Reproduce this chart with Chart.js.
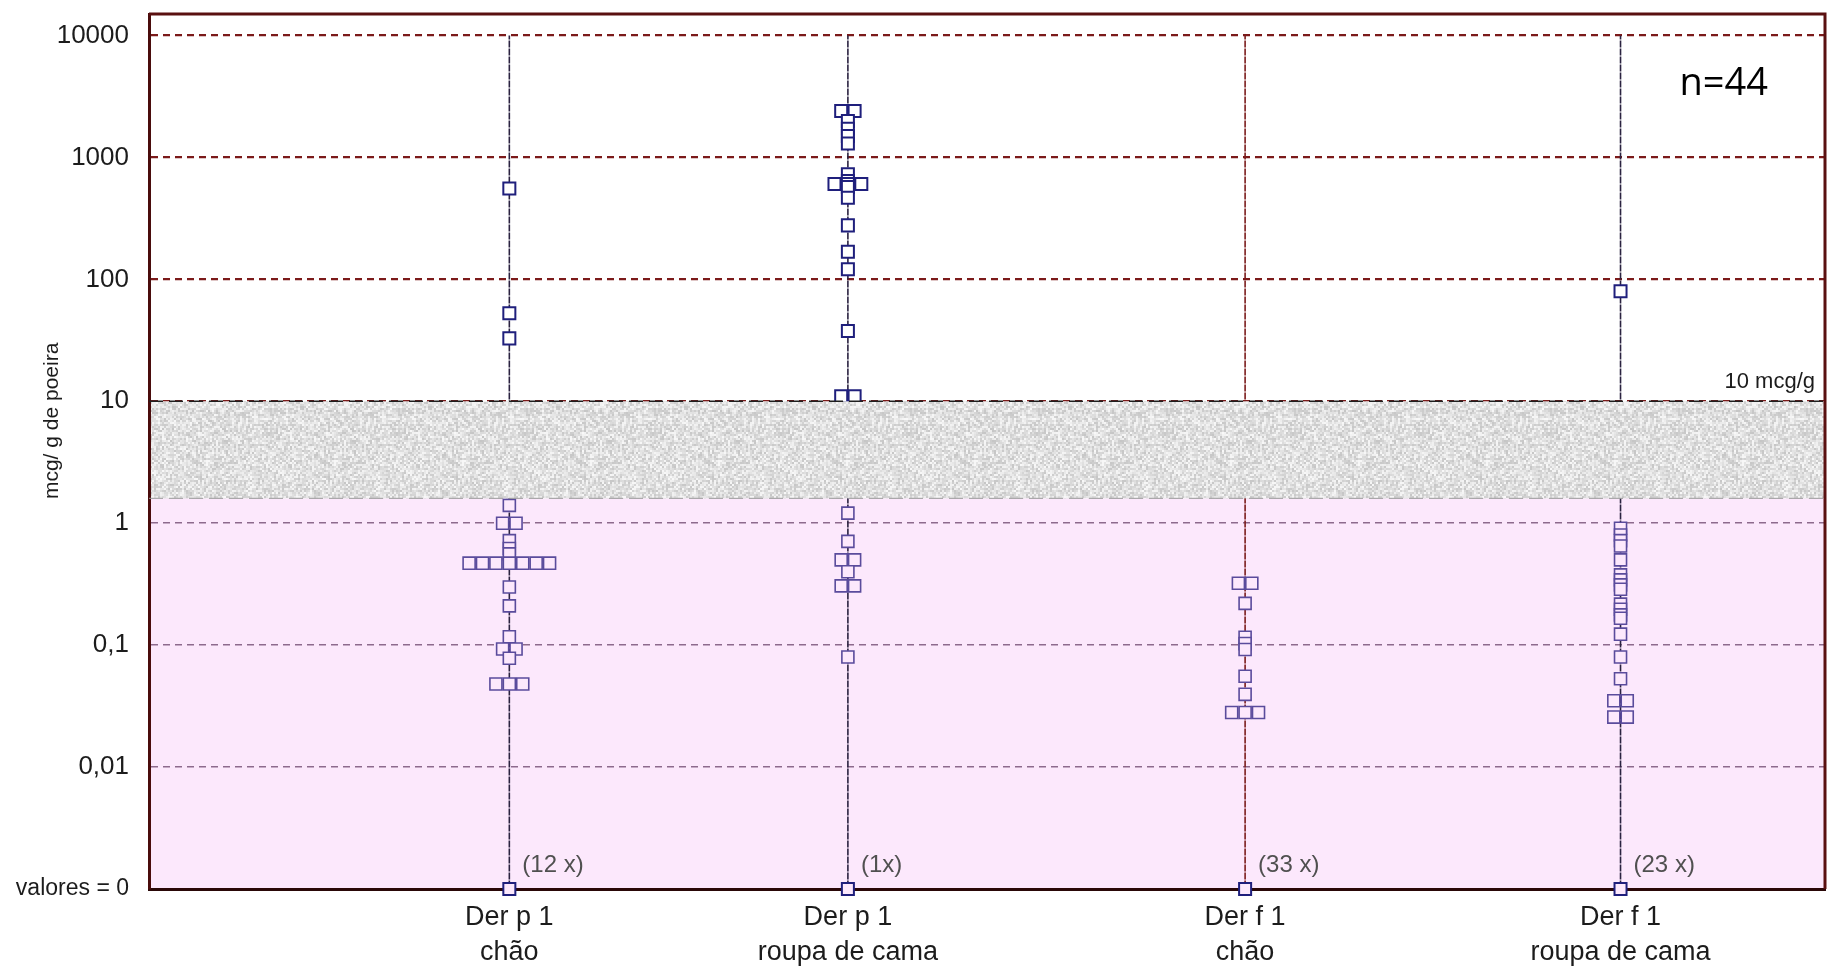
<!DOCTYPE html>
<html lang="pt">
<head>
<meta charset="UTF-8">
<title>Der p 1 / Der f 1 - mcg/g de poeira</title>
<script src="https://cdn.jsdelivr.net/npm/chart.js"></script>
<style>
  html, body { margin: 0; padding: 0; background: #fff; overflow: hidden; }
  #wrap { width: 1830px; height: 969px; }
  canvas { display: block; }
</style>
</head>
<body>
<div id="wrap"><canvas id="chart" width="1830" height="969"></canvas></div>
<script>
// categorias do eixo x e posição de cada coluna (escala 0-100)
const categories = [['Der p 1', 'chão'], ['Der p 1', 'roupa de cama'], ['Der f 1', 'chão'], ['Der f 1', 'roupa de cama']];
const categoryPos = [21.5, 41.7, 65.4, 87.8];

// valores > 0 (mcg/g de poeira)
const derP1Chao = [557, 52.6, 32.8, 1.4, 1.0, 1.0, 0.72, 0.62, 0.56, 0.47, 0.47, 0.47, 0.47, 0.47, 0.47, 0.47,
                   0.30, 0.21, 0.117, 0.093, 0.093, 0.078, 0.048, 0.048, 0.048];
const derP1Cama = [2400, 2400, 1990, 1720, 1500, 1300, 726, 640, 604, 604, 604, 571, 467, 277, 168, 121, 37.7, 11, 11,
                   1.21, 0.71, 0.5, 0.5, 0.40, 0.306, 0.306, 0.08];
const derF1Chao = [0.322, 0.322, 0.22, 0.116, 0.103, 0.092, 0.0556, 0.0395, 0.028, 0.028, 0.028];
const derF1Cama = [80, 0.91, 0.80, 0.72, 0.65, 0.50, 0.377, 0.343, 0.312, 0.287, 0.217, 0.197, 0.177, 0.166,
                   0.123, 0.080, 0.053, 0.035, 0.035, 0.0257, 0.0257];

// quantas amostras deram zero em cada coluna
const zeroCounts = [12, 1, 33, 23];
const zeroLabels = ['(12 x)', '(1x)', '(33 x)', '(23 x)'];
const sampleSize = 44;

const yTicks = [0.001, 0.01, 0.1, 1, 10, 100, 1000, 10000];
const yTickLabels = ['valores = 0', '0,01', '0,1', '1', '10', '100', '1000', '10000'];
const zeroValue = 0.001;
const yMax = 15000;
const bandTop = 10;      // faixa cinza: 10 mcg/g
const bandBottom = 1.6;

// estilos
const FONT = "'Liberation Sans', Arial, sans-serif";
const TEXT = '#1c1c1c';
const PINK = '#fce8fc';
const NAVY = '#1f1f7c';
const PURPLE = '#5a4b9c';
const SLOT = 0.8; // deslocamento horizontal entre valores repetidos
const upperLineColors = ['#2a2240', '#2a2240', '#7b1c1c', '#2a2240'];

const columns = [derP1Chao, derP1Cama, derF1Chao, derF1Cama];

// valores iguais ficam lado a lado, centrados na coluna
function spread(values, pos) {
    const count = {};
    values.forEach(v => { count[v] = (count[v] || 0) + 1; });
    const seen = {};
    return values.map(v => {
        const k = seen[v] = (seen[v] || 0) + 1;
        return { x: pos + (k - 1 - (count[v] - 1) / 2) * SLOT, y: v };
    });
}

const datasets = [];

// linhas verticais de cada coluna
categoryPos.forEach((p, i) => {
    datasets.push({
        data: [{ x: p, y: yTicks[yTicks.length - 1] }, { x: p, y: bandTop }, { x: p, y: zeroValue }],
        showLine: true,
        pointRadius: 0,
        borderWidth: 1.6,
        order: 3,
        segment: {
            borderColor: ctx => ctx.p0.parsed.y >= bandTop ? upperLineColors[i] : '#8a6484',
            borderDash: ctx => ctx.p0.parsed.y >= bandTop ? [4, 4] : [3, 5]
        }
    });
});

// pontos
columns.forEach((vals, i) => {
    datasets.push({
        data: spread(vals, categoryPos[i]),
        pointStyle: 'rect',
        pointRadius: 8.5,
        pointBorderWidth: ctx => ctx.raw && ctx.raw.y >= bandTop ? 2 : 1.6,
        pointBorderColor: ctx => ctx.raw && ctx.raw.y >= bandTop ? NAVY : PURPLE,
        pointBackgroundColor: ctx => ctx.raw && ctx.raw.y >= bandTop ? '#ffffff' : PINK,
        order: 1
    });
});

// zeros
const zeroIndex = datasets.length;
datasets.push({
    data: categoryPos.map(p => ({ x: p, y: zeroValue })),
    pointStyle: 'rect',
    pointRadius: 8.5,
    pointBorderWidth: 2,
    pointBorderColor: NAVY,
    pointBackgroundColor: PINK,
    clip: false,
    order: 1
});

// textura da faixa cinza (pontilhado em blocos de 2 px)
function makeNoise() {
    const c = document.createElement('canvas');
    c.width = 128; c.height = 128;
    const g = c.getContext('2d');
    for (let j = 0; j < 64; j++) {
        for (let i = 0; i < 64; i++) {
            const h = Math.sin(i * 12.9898 + j * 78.233) * 43758.5453;
            const f = h - Math.floor(h);
            const v = Math.round(198 + f * 50);
            g.fillStyle = 'rgb(' + v + ',' + v + ',' + v + ')';
            g.fillRect(i * 2, j * 2, 2, 2);
        }
    }
    return c;
}

const backdrop = {
    id: 'backdrop',
    beforeDraw(chart) {
        const { ctx, chartArea: a, scales: { y } } = chart;
        const yb = y.getPixelForValue(bandBottom);
        ctx.save();
        ctx.fillStyle = '#ffffff';
        ctx.fillRect(0, 0, chart.width, chart.height);
        ctx.fillStyle = PINK;
        ctx.fillRect(a.left, yb, a.right - a.left, a.bottom - yb);
        ctx.restore();
    }
};

const band = {
    id: 'band',
    afterDatasetsDraw(chart) {
        const { ctx, chartArea: a, scales: { y } } = chart;
        const yt = y.getPixelForValue(bandTop);
        const yb = y.getPixelForValue(bandBottom);
        ctx.save();
        ctx.fillStyle = ctx.createPattern(makeNoise(), 'repeat');
        ctx.fillRect(a.left + 2, yt, a.right - a.left - 2, yb - yt);
        ctx.lineWidth = 1.6;
        ctx.strokeStyle = '#202020';
        ctx.setLineDash([14, 6]);
        ctx.beginPath(); ctx.moveTo(a.left, yt); ctx.lineTo(a.right, yt); ctx.stroke();
        ctx.lineWidth = 1;
        ctx.strokeStyle = '#9a9a9a';
        ctx.beginPath(); ctx.moveTo(a.left, yb); ctx.lineTo(a.right, yb); ctx.stroke();
        ctx.setLineDash([]);
        ctx.fillStyle = TEXT;
        ctx.font = '22px ' + FONT;
        ctx.textAlign = 'right';
        ctx.textBaseline = 'bottom';
        ctx.fillText(bandTop + ' mcg/g', a.right - 10, yt - 8);
        ctx.restore();
    }
};

const annotations = {
    id: 'annotations',
    afterDraw(chart) {
        const { ctx, chartArea: a } = chart;
        ctx.save();
        // moldura superior e direita
        ctx.strokeStyle = '#5a1010';
        ctx.lineWidth = 3;
        ctx.beginPath();
        ctx.moveTo(a.left, a.top); ctx.lineTo(a.right, a.top); ctx.lineTo(a.right, a.bottom);
        ctx.stroke();

        // quantidade de zeros
        ctx.fillStyle = '#505050';
        ctx.font = '24px ' + FONT;
        ctx.textAlign = 'left';
        ctx.textBaseline = 'middle';
        chart.getDatasetMeta(zeroIndex).data.forEach((pt, i) => {
            ctx.fillText(zeroLabels[i], pt.x + 13, pt.y - 24);
        });

        // n
        ctx.fillStyle = '#000';
        ctx.font = "38px 'Open Sans', 'Liberation Sans', sans-serif";
        ctx.textAlign = 'right';
        ctx.fillText('n=' + sampleSize, a.right - 57, a.top + 70);

        // título do eixo y
        ctx.translate(a.left - 97, a.top + (a.bottom - a.top) * 0.465);
        ctx.rotate(-Math.PI / 2);
        ctx.textAlign = 'center';
        ctx.fillStyle = TEXT;
        ctx.font = '21px ' + FONT;
        ctx.fillText('mcg/ g de poeira', 0, 0);
        ctx.restore();
    }
};

new Chart(document.getElementById('chart'), {
    type: 'scatter',
    data: { datasets: datasets },
    plugins: [backdrop, band, annotations],
    options: {
        responsive: false,
        animation: false,
        devicePixelRatio: 1,
        layout: { autoPadding: false, padding: { top: 14, right: 5, bottom: 0, left: 0 } },
        plugins: { legend: { display: false }, tooltip: { enabled: false } },
        scales: {
            x: {
                type: 'linear',
                min: 0,
                max: 100,
                afterBuildTicks: axis => { axis.ticks = categoryPos.map(v => ({ value: v })); },
                afterFit: axis => { axis.paddingLeft = 0; axis.paddingRight = 0; axis.height = 80; },
                grid: { display: false, drawTicks: false },
                border: { display: true, color: '#2a0808', width: 3 },
                ticks: {
                    autoSkip: false,
                    maxRotation: 0,
                    padding: 11,
                    color: TEXT,
                    font: { family: FONT, size: 27, lineHeight: 1.3 },
                    callback: (v, i) => categories[i]
                }
            },
            y: {
                type: 'logarithmic',
                min: zeroValue,
                max: yMax,
                afterBuildTicks: axis => { axis.ticks = yTicks.map(v => ({ value: v })); },
                afterFit: axis => { axis.width = 149; axis.paddingTop = 0; axis.paddingBottom = 0; },
                grid: {
                    drawTicks: false,
                    color: ctx => ctx.tick && ctx.tick.value >= bandTop ? '#7b1a1a' : '#8d6a8d',
                    lineWidth: ctx => ctx.tick && ctx.tick.value >= bandTop ? 2.2 : 1.5
                },
                border: { display: true, color: '#4a0c0c', width: 3, dash: [7, 5] },
                ticks: {
                    autoSkip: false,
                    padding: 20,
                    color: TEXT,
                    font: ctx => ({ family: FONT, size: ctx.tick && ctx.tick.value === zeroValue ? 23 : 26 }),
                    callback: (v, i) => yTickLabels[i]
                }
            }
        }
    }
});
</script>
</body>
</html>
